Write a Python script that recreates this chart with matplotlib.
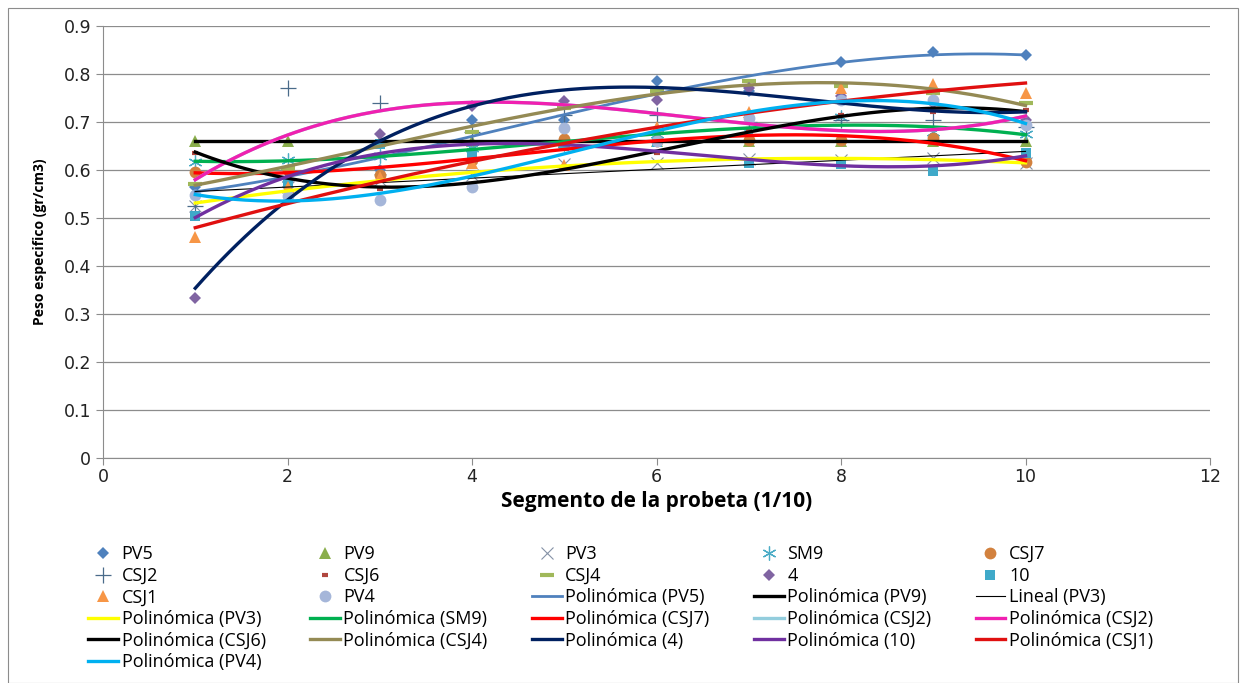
import numpy as np
import matplotlib
matplotlib.use("Agg")
import matplotlib.pyplot as plt
from matplotlib.patches import Rectangle

# segment number along the specimen (1/10 steps)
seg = [1, 2, 3, 4, 5, 6, 7, 8, 9, 10]

# specific weight per segment (gr/cm3)
pv5 = [0.565, 0.575, 0.600, 0.705, 0.705, 0.785, 0.765, 0.825, 0.845, 0.840]
pv9 = [0.660, 0.660, 0.660, 0.660, 0.660, 0.660, 0.660, 0.660, 0.660, 0.660]
pv3 = [0.525, 0.565, 0.580, 0.590, 0.612, 0.615, 0.623, 0.620, 0.625, 0.615]
sm9 = [0.617, 0.620, 0.630, 0.645, 0.655, 0.675, 0.680, 0.710, 0.680, 0.675]
csj7 = [0.595, 0.600, 0.590, 0.620, 0.665, 0.660, 0.663, 0.663, 0.666, 0.617]
csj2 = [0.525, 0.770, 0.740, 0.680, 0.715, 0.715, 0.700, 0.705, 0.705, 0.690]
csj6 = [0.635, 0.590, 0.560, 0.570, 0.605, 0.635, 0.685, 0.715, 0.720, 0.725]
csj4 = [0.570, 0.605, 0.655, 0.680, 0.730, 0.765, 0.785, 0.775, 0.760, 0.740]
s4 = [0.333, 0.565, 0.675, 0.733, 0.744, 0.746, 0.770, 0.755, 0.740, 0.705]
s10 = [0.505, 0.573, 0.655, 0.635, 0.650, 0.658, 0.614, 0.613, 0.598, 0.635]
csj1 = [0.460, 0.565, 0.585, 0.615, 0.610, 0.690, 0.720, 0.770, 0.780, 0.760]
pv4 = [0.548, 0.545, 0.538, 0.565, 0.687, 0.660, 0.708, 0.745, 0.746, 0.694]

# name, values, marker, colour, size, edge width
series = [
    ("PV5", pv5, "D", "#4F81BD", 6.5, 0),
    ("PV9", pv9, "^", "#8AAE4C", 8, 0),
    ("PV3", pv3, "x", "#8592A6", 9, 0.8),
    ("SM9", sm9, (6, 2, 0), "#4BACC6", 10, 0.9),
    ("CSJ7", csj7, "o", "#D2813E", 8.5, 0),
    ("CSJ2", csj2, "+", "#4A6B8A", 11, 0.9),
    ("CSJ6", csj6, "_", "#B0463F", 5, 3),
    ("CSJ4", csj4, "_", "#A0B85A", 10, 3),
    ("4", s4, "D", "#8064A2", 6.5, 0),
    ("10", s10, "s", "#3FA9C9", 7, 0),
    ("CSJ1", csj1, "^", "#F79646", 8.5, 0),
    ("PV4", pv4, "o", "#A5B6D9", 8.5, 0),
]

# trendlines: label, values, degree, colour, width
trends = [
    ("Polinómica (PV5)", pv5, 3, "#4F81BD", 2.0),
    ("Polinómica (PV9)", pv9, 2, "black", 2.4),
    ("Lineal (PV3)", pv3, 1, "black", 0.8),
    ("Polinómica (PV3)", pv3, 2, "#FFFF00", 2.4),
    ("Polinómica (SM9)", sm9, 3, "#00B050", 2.4),
    ("Polinómica (CSJ7)", csj7, 3, "#FF0000", 2.4),
    ("Polinómica (CSJ2)", csj2, 3, "#93CDDD", 2.4),
    ("Polinómica (CSJ2)", csj2, 3, "#F020B0", 2.4),
    ("Polinómica (CSJ6)", csj6, 3, "black", 2.4),
    ("Polinómica (CSJ4)", csj4, 3, "#948A54", 2.4),
    ("Polinómica (4)", s4, 3, "#002060", 2.4),
    ("Polinómica (10)", s10, 3, "#7030A0", 2.4),
    ("Polinómica (CSJ1)", csj1, 2, "#E01010", 2.4),
    ("Polinómica (PV4)", pv4, 3, "#00B0F0", 2.4),
]

fig = plt.figure(figsize=(12.46, 6.83), dpi=100)
fig.patches.append(Rectangle((8 / 1246, 0), 1230 / 1246, 1 - 8 / 683,
                             transform=fig.transFigure, fill=False,
                             edgecolor="#8C8C8C", lw=0.8))
ax = fig.add_axes([103 / 1246, 1 - 458 / 683, 1107 / 1246, 432 / 683])

handles, labels = [], []
for name, vals, mk, col, ms, mew in series:
    h, = ax.plot(seg, vals, linestyle="none", marker=mk, color=col,
                 markersize=ms, markeredgewidth=mew, zorder=3)
    handles.append(h)
    labels.append(name)

xs = np.linspace(seg[0], seg[-1], 200)
for lab, vals, deg, col, lw in trends:
    coef = np.polyfit(seg, vals, deg)
    h, = ax.plot(xs, np.polyval(coef, xs), color=col, lw=lw, zorder=4)
    handles.append(h)
    labels.append(lab)

ax.set_xlim(0, 12)
ax.set_ylim(0, 0.9)
ax.set_xticks(range(0, 13, 2))
ax.set_yticks(np.arange(0, 0.91, 0.1))
ax.set_yticklabels(["0"] + ["%.1f" % v for v in np.arange(0.1, 0.91, 0.1)])
ax.grid(axis="y", color="#8C8C8C", lw=0.9)
ax.set_axisbelow(True)
for s in ["top", "right"]:
    ax.spines[s].set_visible(False)
for s in ["left", "bottom"]:
    ax.spines[s].set_color("#8C8C8C")
ax.tick_params(colors="#8C8C8C", labelcolor="#222222", labelsize=12.5, length=5)
ax.tick_params(axis="x", pad=2)

ax.set_xlabel("Segmento de la probeta (1/10)", fontsize=15, fontweight="bold",
              family="Open Sans", labelpad=4)
ax.set_ylabel("Peso especifico (gr/cm3)", fontsize=10, fontweight="bold",
              family="Open Sans", labelpad=12)

# Excel fills legend rows first, matplotlib fills columns first
ncol = 5
order = [i for c in range(ncol) for i in range(c, len(handles), ncol)]
fig.legend([handles[i] for i in order], [labels[i] for i in order],
           ncol=ncol, loc="upper left", bbox_to_anchor=(81 / 1246, 1 - 538 / 683),
           frameon=False, prop={"family": "Open Sans", "size": 13},
           handlelength=1.65, handletextpad=0.2, columnspacing=2.45,
           labelspacing=0.2, borderaxespad=0)

fig.savefig("out.png", dpi=100)
